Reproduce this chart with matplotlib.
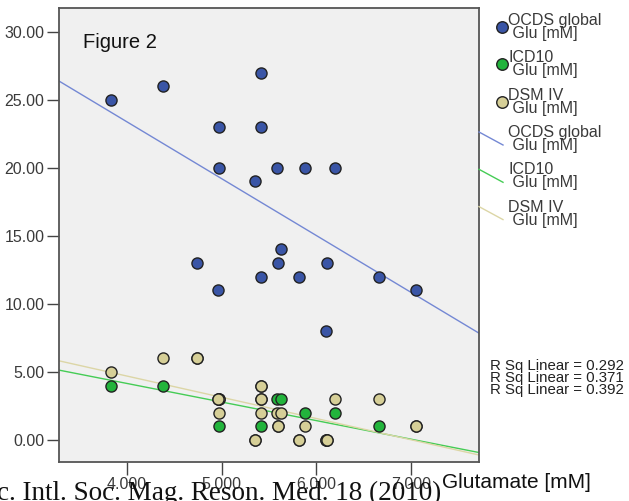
import numpy as np
import matplotlib.pyplot as plt
from matplotlib.lines import Line2D

# Glutamate per subject and the three symptom scores
glu = [3.834, 4.384, 4.736, 4.968, 4.968, 4.958, 5.355, 5.412, 5.412, 5.412,
       5.587, 5.594, 5.630, 5.820, 5.876, 6.101, 6.109, 6.196, 6.664, 7.059]
ocds = [25, 26, 13, 23, 20, 11, 19, 27, 23, 12, 20, 13, 14, 12, 20, 8, 13, 20, 12, 11]
icd10 = [4, 4, 6, 3, 1, 3, 0, 1, 4, 3, 3, 1, 3, 0, 2, 0, 0, 2, 1, 1]
dsm4 = [5, 6, 6, 3, 2, 3, 0, 4, 3, 2, 2, 1, 2, 0, 1, 0, 0, 3, 3, 1]

series_names = ['OCDS global\n Glu [mM]', 'ICD10\n Glu [mM]', 'DSM IV\n Glu [mM]']
dot_colors = ['#3a55a6', '#22b43c', '#d6cf97']
line_colors = ['#7488d4', '#45cc55', '#dcd6a6']
rsq_labels = ['R Sq Linear = 0.292', 'R Sq Linear = 0.371', 'R Sq Linear = 0.392']

xticks = [4, 5, 6, 7]
yticks = [0, 5, 10, 15, 20, 25, 30]

plt.rcParams['font.family'] = ['Liberation Sans', 'DejaVu Sans']

W, H = 629, 501
fig = plt.figure(figsize=(W / 100, H / 100), dpi=100)
ax = fig.add_axes([59 / W, 39 / H, 420 / W, 454 / H])
ax.set_facecolor('#f0f0f0')

xlim = (3.28, 7.72)
ax.set_xlim(*xlim)
ax.set_ylim(-1.62, 31.75)

x = np.array(glu, dtype=float)
xs = np.array(xlim)
for ys, lc in zip([ocds, icd10, dsm4], line_colors):
    k, b = np.polyfit(x, np.array(ys, dtype=float), 1)
    ax.plot(xs, k * xs + b, color=lc, lw=1.0, zorder=1)

for ys, dc in zip([ocds, icd10, dsm4], dot_colors):
    ax.scatter(x, ys, s=64, color=dc, edgecolors='#222222', linewidths=1.0, zorder=2)

ax.set_xticks(xticks)
ax.set_xticklabels([f'{v:.3f}' for v in xticks])
ax.set_yticks(yticks)
ax.set_yticklabels([f'{v:.2f}' for v in yticks])
ax.tick_params(direction='out', length=9, width=1, color='#444444',
               labelsize=11.5, labelcolor='#3a3a3a', pad=1.5)
for sp in ax.spines.values():
    sp.set_color('#555555')
    sp.set_linewidth(1.3)


def fx(px):
    return px / W


def fy(py):
    return 1 - py / H


fig.text(fx(83), fy(42), 'Figure 2', fontsize=14.5, va='center', ha='left',
         color='#111111')

# legend drawn at fixed spots right of the axes
for i, (name, dc) in enumerate(zip(series_names, dot_colors)):
    yc = 27 + 37.3 * i
    fig.add_artist(Line2D([fx(502)], [fy(yc)], marker='o', markersize=8.3,
                          markerfacecolor=dc, markeredgecolor='#222222',
                          markeredgewidth=1.0, linestyle='none'))
    fig.text(fx(508), fy(yc), name, fontsize=11.5, va='center', ha='left',
             color='#3a3a3a', linespacing=0.82)
for i, (name, lc) in enumerate(zip(series_names, line_colors)):
    yc = 139 + 37.3 * i
    fig.add_artist(Line2D([fx(479), fx(503)], [fy(yc - 7), fy(yc + 6)],
                          color=lc, lw=1.0))
    fig.text(fx(508), fy(yc), name, fontsize=11.5, va='center', ha='left',
             color='#3a3a3a', linespacing=0.82)

fig.text(fx(490), fy(378), '\n'.join(rsq_labels), fontsize=10.8, va='center',
         ha='left', color='#222222', linespacing=0.85)

fig.text(fx(442), fy(482), 'Glutamate [mM]', fontsize=15, va='center',
         ha='left', color='#111111')

fig.text(fx(-3), fy(500), 'c. Intl. Soc. Mag. Reson. Med. 18 (2010)',
         family=['Liberation Serif', 'DejaVu Serif'], fontsize=19.5,
         va='baseline', ha='left', color='#111111')

plt.savefig('out.png', dpi=100)
